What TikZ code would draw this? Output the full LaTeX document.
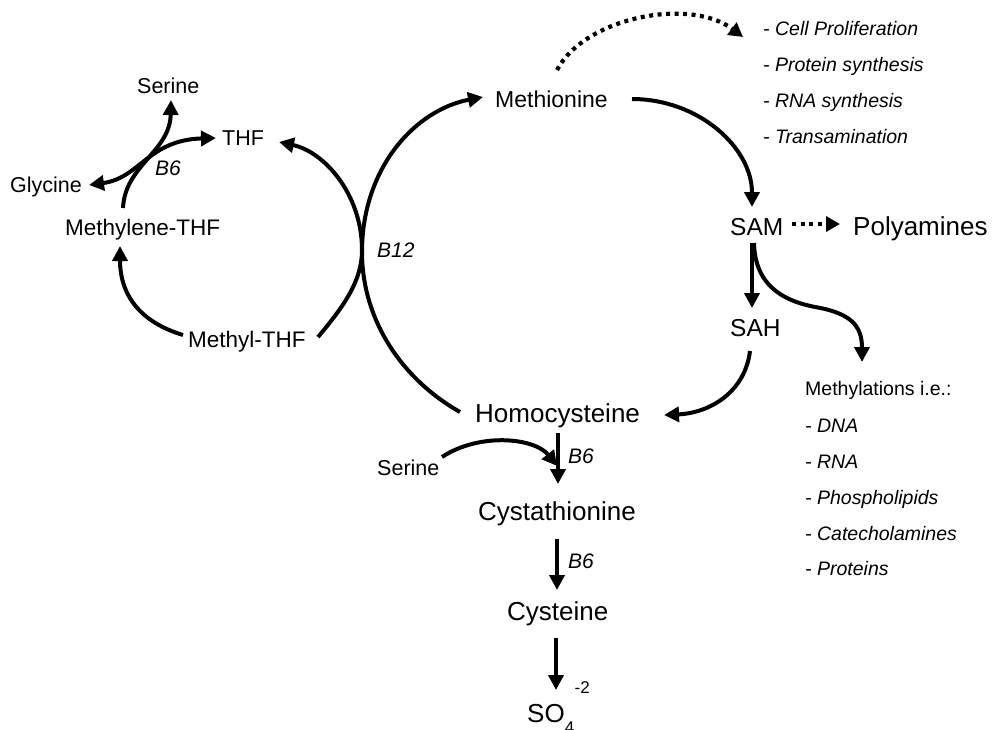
\documentclass[tikz,border=0pt]{standalone}
\usepackage{fontspec}
\setmainfont{Liberation Sans}
\usetikzlibrary{arrows.meta}
\newcommand{\fsz}[1]{\fontsize{#1}{#1}\selectfont}
\begin{document}
\begin{tikzpicture}[x=1pt,y=-1pt,
  lbl/.style={anchor=base west,inner sep=0pt,text=black},
  arr/.style={line width=4pt,-{Triangle[length=15pt,width=15pt]}},
  dbl/.style={line width=4pt,{Triangle[length=15pt,width=15pt]}-{Triangle[length=15pt,width=15pt]}},
  dots/.style={line width=4.2pt,dash pattern=on 4pt off 4.5pt,-{Triangle[length=14pt,width=15pt]}}]
\useasboundingbox (0,0) rectangle (992,729);
% labels
\node[lbl,font=\fsz{21.5}] (serT) at (137,93) {Serine};
\node[lbl,font=\fsz{21.5}] (thf) at (222,145) {THF};
\node[lbl,font=\fsz{21}\itshape] (b6a) at (155,175) {B6};
\node[lbl,font=\fsz{21.5}] (gly) at (10,192) {Glycine};
\node[lbl,font=\fsz{22.5}] (mlthf) at (65,235) {Methylene-THF};
\node[lbl,font=\fsz{22.5}] (mthf) at (188,347) {Methyl-THF};
\node[lbl,font=\fsz{21}\itshape] (b12) at (377,257) {B12};
\node[lbl,font=\fsz{23}] (met) at (495,107) {Methionine};
\node[lbl,font=\fsz{19.5}\itshape] (l1) at (763,35) {- Cell Proliferation};
\node[lbl,font=\fsz{19.5}\itshape] (l2) at (763,71) {- Protein synthesis};
\node[lbl,font=\fsz{19.5}\itshape] (l3) at (763,107) {- RNA synthesis};
\node[lbl,font=\fsz{19.5}\itshape] (l4) at (763,143) {- Transamination};
\node[lbl,font=\fsz{24.5}] (sam) at (730,235) {SAM};
\node[lbl,font=\fsz{26}] (poly) at (853,235) {Polyamines};
\node[lbl,font=\fsz{24.5}] (sah) at (730,336) {SAH};
\node[lbl,font=\fsz{19.5}] (mety) at (805,395) {Methylations i.e.:};
\node[lbl,font=\fsz{19.5}\itshape] (m1) at (805,432) {- DNA};
\node[lbl,font=\fsz{19.5}\itshape] (m2) at (805,468) {- RNA};
\node[lbl,font=\fsz{19.5}\itshape] (m3) at (805,504) {- Phospholipids};
\node[lbl,font=\fsz{19.5}\itshape] (m4) at (805,540) {- Catecholamines};
\node[lbl,font=\fsz{19.5}\itshape] (m5) at (805,575) {- Proteins};
\node[lbl,font=\fsz{26}] (hcy) at (475,422) {Homocysteine};
\node[lbl,font=\fsz{21.5}] (serB) at (377,475) {Serine};
\node[lbl,font=\fsz{21}\itshape] (b6b) at (568,463) {B6};
\node[lbl,font=\fsz{26}] (cysta) at (478,520) {Cystathionine};
\node[lbl,font=\fsz{21}\itshape] (b6c) at (568,568) {B6};
\node[lbl,font=\fsz{26}] (cys) at (507,620) {Cysteine};
\node[lbl,font=\fsz{26}] (so4) at (527,722) {SO\rlap{\raisebox{-0.45em}{\fsz{17}4}}\hspace{0.38em}\raisebox{1.1em}{\fsz{17}-2}};
% connector end points
\coordinate (metR) at (632,99);
\coordinate (samT) at (752,207);
\coordinate (hcyL) at (460,412);
\coordinate (metL) at (483,97);
\coordinate (mthfR) at (318,337);
\coordinate (thfR) at (279,142);
\coordinate (mthfL) at (183,335);
\coordinate (mlthfB) at (120,246);
\coordinate (mlthfT) at (123,208);
\coordinate (serTB) at (171,100);
\coordinate (glyR) at (89,185);
\coordinate (thfL) at (216,138);
\coordinate (dotS) at (557,70);
\coordinate (dotE) at (743,37);
\coordinate (samR) at (792,224);
\coordinate (polyL) at (840,224);
\coordinate (samB) at (752,243);
\coordinate (sahT) at (752,308);
\coordinate (samB2) at (754,243);
\coordinate (metyM) at (815,307);
\coordinate (metyT) at (862,362);
\coordinate (sahB) at (750,351);
\coordinate (hcyR) at (664,415);
\coordinate (hcyB) at (558,433);
\coordinate (cystaT) at (558,484);
\coordinate (serBR) at (442,457);
\coordinate (joinS) at (557,466);
\coordinate (cystaB) at (557,539);
\coordinate (cysT) at (557,590);
\coordinate (cysB) at (556,638);
\coordinate (so4T) at (556,690);
% connectors
\draw[arr] (metR) .. controls (698,99) and (752,147) .. (samT);
\draw[arr] (hcyL) .. controls (400,378) and (362,318) .. (362,252) .. controls (362,168) and (415,110) .. (metL);
\draw[arr] (mthfR) .. controls (345,305) and (362,280) .. (362,250) .. controls (362,195) and (325,152) .. (thfR);
\draw[arr] (mthfL) .. controls (140,322) and (120,295) .. (mlthfB);
\draw[arr] (mlthfT) .. controls (125,165) and (170,152) .. (serTB);
\draw[dbl] (glyR) .. controls (140,178) and (148,140) .. (thfL);
\draw[dots] (dotS) .. controls (585,17) and (690,-3) .. (dotE);
\draw[dots] (samR) -- (polyL);
\draw[arr] (samB) -- (sahT);
\draw[line width=4pt] (samB2) .. controls (755,290) and (790,302) .. (metyM);
\draw[arr] (metyM) .. controls (850,313) and (862,325) .. (metyT);
\draw[arr] (sahB) .. controls (745,392) and (710,413) .. (hcyR);
\draw[arr] (hcyB) -- (cystaT);
\draw[arr] (serBR) .. controls (480,432) and (535,438) .. (joinS);
\draw[arr] (cystaB) -- (cysT);
\draw[arr] (cysB) -- (so4T);
\end{tikzpicture}
\end{document}
